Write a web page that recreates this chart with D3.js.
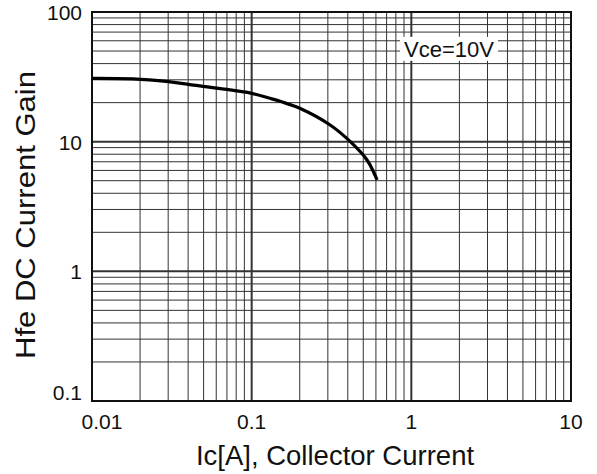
<!DOCTYPE html>
<html>
<head>
<meta charset="utf-8">
<script src="https://cdn.jsdelivr.net/npm/d3@7"></script>
<style>
  body { margin: 0; background: #fff; }
  text { font-family: "Liberation Sans", Arial, sans-serif; fill: #111; }
</style>
</head>
<body>
<svg id="chart"></svg>
<script>
// collector current [A] vs DC current gain, Vce=10V
const icValues = [0.01, 0.018, 0.03, 0.04, 0.062, 0.1, 0.13, 0.154, 0.2, 0.31, 0.415, 0.528, 0.61];
const hfeValues = [30.8, 30.5, 29.0, 27.7, 25.8, 23.6, 21.6, 20.3, 18.1, 13.45, 10.0, 7.22, 5.07];
const xTicks = [0.01, 0.1, 1, 10];
const xTickLabels = ['0.01', '0.1', '1', '10'];
const yTicks = [0.1, 1, 10, 100];
const yTickLabels = ['0.1', '1', '10', '100'];
const xTitle = 'Ic[A], Collector Current';
const yTitle = 'Hfe DC Current Gain';
const noteText = 'Vce=10V';

const width = 597, height = 474;
const margin = {left: 92, right: 26, top: 12, bottom: 73};

let svg = d3.select('#chart')
    .attr('width', width)
    .attr('height', height);

let xScale = d3.scaleLog()
    .domain([0.01, 10])
    .range([margin.left, width - margin.right]);
let yScale = d3.scaleLog()
    .domain([0.1, 100])
    .range([height - margin.bottom, margin.top]);

// minor + major grid lines (1..9 per decade)
let xGrid = [], yGrid = [];
for (let d = -2; d < 1; d++) for (let m = 1; m < 10; m++) xGrid.push(m * Math.pow(10, d));
for (let d = -1; d < 2; d++) for (let m = 1; m < 10; m++) yGrid.push(m * Math.pow(10, d));

let grid = svg.append('g');
grid.selectAll('line.vx')
    .data(xGrid)
    .join('line')
    .attr('x1', d => xScale(d)).attr('x2', d => xScale(d))
    .attr('y1', yScale(0.1)).attr('y2', yScale(100))
    .attr('stroke', '#333')
    .attr('stroke-width', d => xTicks.includes(d) ? 2 : 1);
grid.selectAll('line.hy')
    .data(yGrid)
    .join('line')
    .attr('y1', d => yScale(d)).attr('y2', d => yScale(d))
    .attr('x1', xScale(0.01)).attr('x2', xScale(10))
    .attr('stroke', '#333')
    .attr('stroke-width', d => yTicks.includes(d) ? 2 : 1);

// note label with white box
let noteX = xScale(1.72), noteY = yScale(52);
svg.append('rect')
    .attr('x', noteX - 49).attr('y', noteY - 12)
    .attr('width', 98).attr('height', 24)
    .attr('fill', '#fff');
svg.append('text')
    .attr('x', noteX).attr('y', noteY + 8)
    .attr('text-anchor', 'middle')
    .attr('font-size', 22)
    .text(noteText);

// frame
svg.append('rect')
    .attr('x', xScale(0.01)).attr('y', yScale(100))
    .attr('width', xScale(10) - xScale(0.01))
    .attr('height', yScale(0.1) - yScale(100))
    .attr('fill', 'none')
    .attr('stroke', '#111')
    .attr('stroke-width', 2);

// curve
let lineGen = d3.line()
    .x((d, i) => xScale(icValues[i]))
    .y(d => yScale(d))
    .curve(d3.curveCatmullRom);
svg.append('path')
    .attr('d', lineGen(hfeValues))
    .attr('fill', 'none')
    .attr('stroke', '#000')
    .attr('stroke-width', 3.2);

// tick labels
svg.selectAll('text.xt')
    .data(xTicks)
    .join('text')
    .attr('x', (d, i) => xScale(d) + (i === 0 ? 10 : 0))
    .attr('y', height - margin.bottom + 28)
    .attr('text-anchor', 'middle')
    .attr('font-size', 21)
    .text((d, i) => xTickLabels[i]);
svg.selectAll('text.yt')
    .data(yTicks)
    .join('text')
    .attr('x', margin.left - 10)
    .attr('y', (d, i) => yScale(d) + 8 - (i === 0 ? 9 : 0))
    .attr('text-anchor', 'end')
    .attr('font-size', 21)
    .text((d, i) => yTickLabels[i]);

// axis titles
svg.append('text')
    .attr('x', 335).attr('y', 465)
    .attr('text-anchor', 'middle')
    .attr('font-size', 27.5)
    .text(xTitle);
svg.append('text')
    .attr('transform', 'translate(35, 215) rotate(-90)')
    .attr('text-anchor', 'middle')
    .attr('font-size', 28)
    .attr('textLength', 288)
    .attr('lengthAdjust', 'spacingAndGlyphs')
    .text(yTitle);
</script>
</body>
</html>
